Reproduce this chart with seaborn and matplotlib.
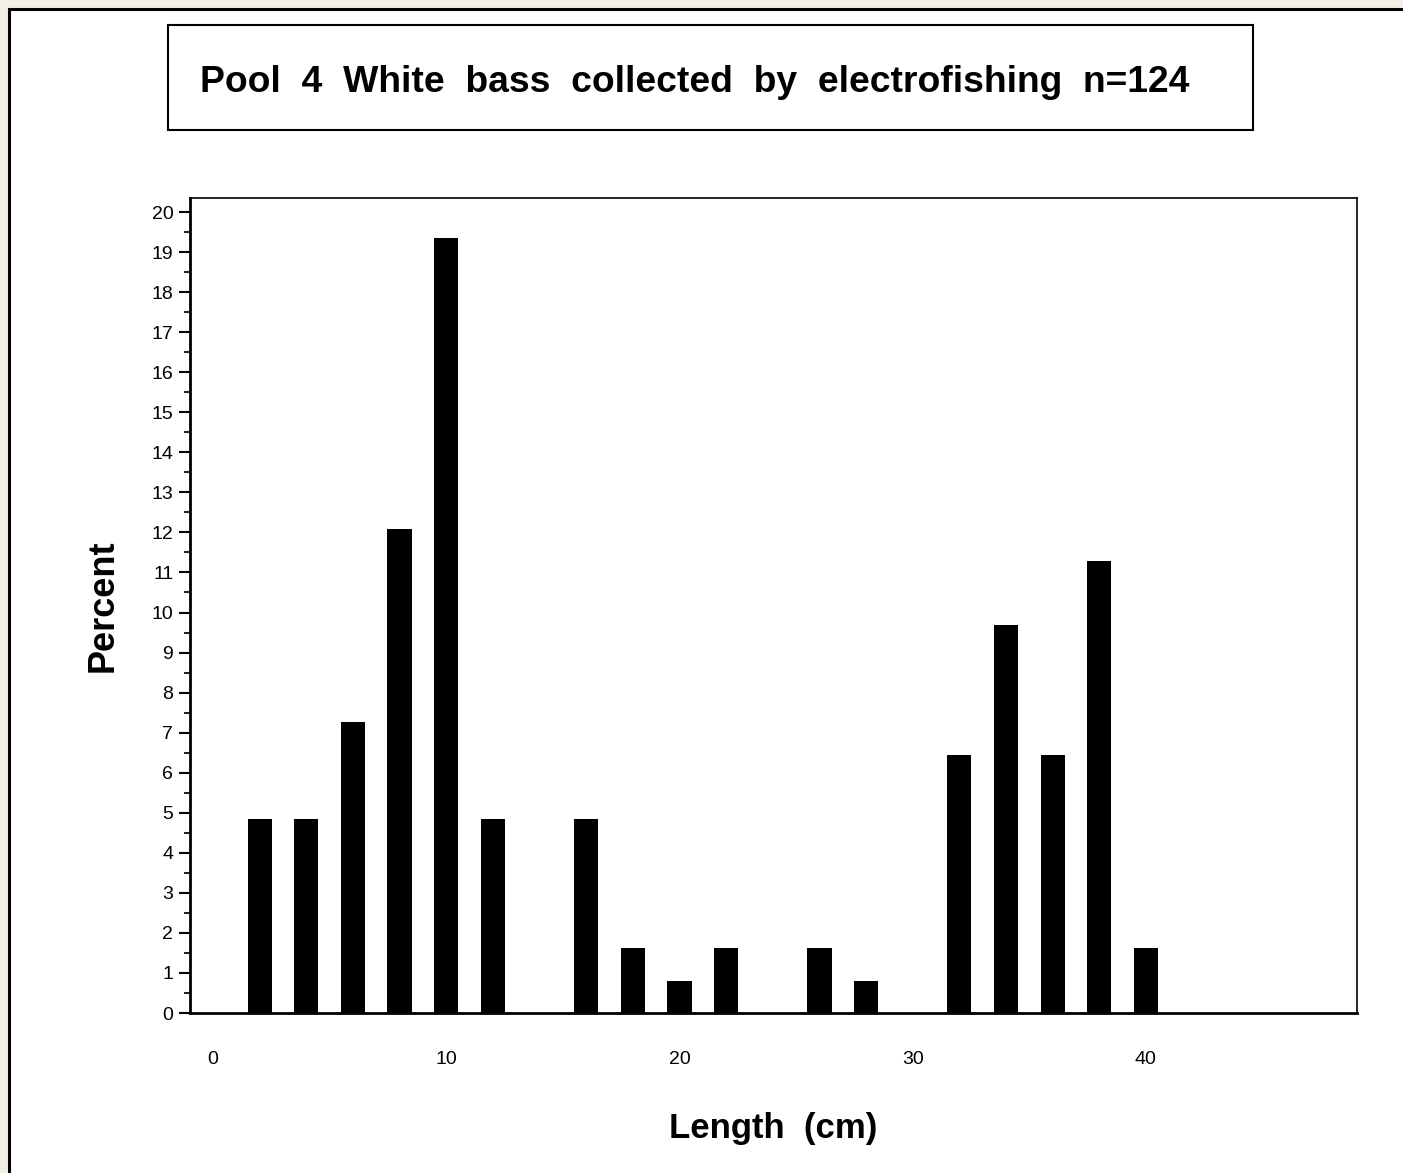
import matplotlib
matplotlib.use("Agg")
import matplotlib.pyplot as plt
from matplotlib.patches import Rectangle
import seaborn as sns
import pandas as pd
import numpy as np

# Data
lengths = [2, 4, 6, 8, 10, 12, 14, 16, 18, 20, 22, 24, 26, 28, 30, 32, 34, 36, 38, 40]
counts = [6, 6, 9, 15, 24, 6, 0, 6, 2, 1, 2, 0, 2, 1, 0, 8, 12, 8, 14, 2]
n_total = 124
percent = [c / n_total * 100 for c in counts]
title = "Pool  4  White  bass  collected  by  electrofishing  n=124"
xlabel = "Length  (cm)"
ylabel = "Percent"
yticks = list(range(0, 21))
xticks = [0, 10, 20, 30, 40]

df = pd.DataFrame({"length": lengths, "percent": percent})

sns.set_theme(style="white")
plt.rcParams["font.family"] = ["Liberation Sans", "DejaVu Sans"]
plt.rcParams["text.color"] = "black"

W, H = 1403, 1173
fig = plt.figure(figsize=(W / 100, H / 100), dpi=100)
fig.patch.set_facecolor("#f3efe6")

# white panel with border
fig.patches.append(Rectangle((9 / W, -0.01), 1.02 - 9 / W, 1 - 9 / H + 0.01,
                             transform=fig.transFigure, facecolor="white",
                             edgecolor="black", linewidth=2.2, zorder=-10))
# title box
bx0, bx1, by0, by1 = 168, 1253, 25, 130
fig.patches.append(Rectangle((bx0 / W, 1 - by1 / H), (bx1 - bx0) / W, (by1 - by0) / H,
                             transform=fig.transFigure, facecolor="white",
                             edgecolor="black", linewidth=1.5, zorder=-5))
fig.text(((bx0 + bx1) / 2 - 16) / W, 1 - 83 / H, title, ha="center", va="center",
         fontsize=26.8, fontweight="bold", color="black", zorder=2)

ax = fig.add_axes([190 / W, 1 - 1013 / H, (1357 - 190) / W, (1013 - 198) / H])
ax.set_facecolor("white")
sns.barplot(data=df, x="length", y="percent", native_scale=True, width=0.52,
            color="black", saturation=1, edgecolor="black", linewidth=0, ax=ax)

ax.set_xlim(-0.986, 49.05)
ax.set_ylim(0, 20.35)
ax.set_yticks(yticks)
ax.set_yticklabels([str(v) for v in yticks], fontsize=14)
ax.set_yticks(np.arange(0.5, 20.5, 1), minor=True)
ax.set_xticks(xticks)
ax.set_xticklabels([str(v) for v in xticks], fontsize=14)
ax.tick_params(axis="y", which="major", direction="out", length=8, width=1.5,
               left=True, pad=4, colors="black")
ax.tick_params(axis="y", which="minor", direction="out", length=4, width=1.5, left=True)
ax.tick_params(axis="x", which="both", length=0, pad=27, colors="black")
for s in ax.spines.values():
    s.set_visible(True)
    s.set_color("black")
    s.set_linewidth(1.2)
ax.spines["left"].set_linewidth(2)
ax.spines["bottom"].set_linewidth(2)

ax.set_xlabel(xlabel, fontsize=25, fontweight="bold", labelpad=32, color="black")
ax.set_ylabel(ylabel, fontsize=26, fontweight="bold", labelpad=22, color="black")

fig.savefig("out.png", dpi=100, facecolor=fig.get_facecolor())
